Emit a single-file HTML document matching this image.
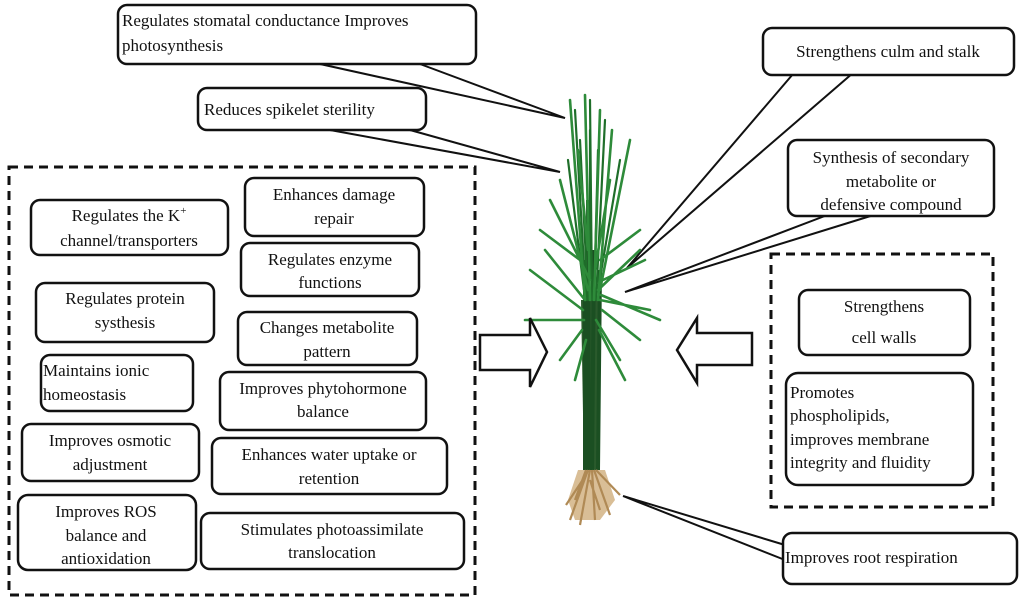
<!DOCTYPE html>
<html><head><meta charset="utf-8"><style>
body{margin:0;background:#fff;}
svg{display:block;}
text{font-family:"Liberation Serif",serif;font-size:17px;fill:#111;}
.b{fill:#fff;stroke:#111;stroke-width:2.5;}
.d{fill:none;stroke:#111;stroke-width:3;stroke-dasharray:9,6;}
.l{stroke:#111;stroke-width:2;fill:none;}
.g{stroke:#2e8b3a;stroke-width:2.6;fill:none;stroke-linecap:round;}
.g3{stroke:#1f6e2a;stroke-width:2.2;fill:none;stroke-linecap:round;}
.g2{stroke:#1b4f22;stroke-width:4;fill:none;}
.r{stroke:#b08a55;stroke-width:2.2;fill:none;}
</style></head><body>
<svg width="1024" height="603" viewBox="0 0 1024 603">
<path class="l" d="M320 64 L565 118 L420 64"/>
<path class="l" d="M330 130 L560 172 L410 130"/>
<path class="l" d="M805 60 L627 268 L868 60"/>
<path class="l" d="M830 214 L625 292 L877 214"/>
<path class="l" d="M623 496 L785 545 M623 496 L785 560"/>
<g>
<path d="M581 300 L600 300 L598 470 L584 470 Z" fill="#2a5a2c"/>
<path class="g2" d="M585 470 L585 260 M592 470 L594 250 M598 470 L600 270 M589 470 L588 200"/>
<path class="g3" d="M586 300 L575 110 M592 300 L590 100 M596 300 L605 120 M588 300 L580 140 M594 300 L598 150 M584 290 L568 160 M598 290 L620 160 M590 280 L590 130"/>
<path class="g" d="M585 300 L570 100 M590 300 L585 95 M594 300 L600 110 M598 300 L612 130 M600 290 L630 140 M588 290 L560 180 M585 300 L545 250 M584 320 L525 320 M590 280 L550 200 M598 290 L640 250 M600 300 L650 310 M602 310 L640 340 M596 320 L620 360 M582 330 L560 360 M586 340 L575 380 M600 260 L640 230 M580 260 L540 230 M595 270 L610 180 M588 250 L578 150 M583 310 L530 270 M601 295 L660 320 M603 280 L645 260 M599 330 L625 380"/>
<path d="M578 470 L605 470 L615 500 L600 520 L575 520 L568 500 Z" fill="#c9a36a" opacity="0.7"/>
<path class="r" d="M588 470 L570 520 M590 470 L580 525 M592 470 L595 520 M594 470 L610 515 M596 470 L620 495 M586 470 L575 500 M590 480 L600 510 M584 478 L566 505"/>
</g>
<rect class="b" x="118" y="5" width="358" height="59" rx="9"/>
<text x="122" y="26">Regulates stomatal conductance Improves</text>
<text x="122" y="51">photosynthesis</text>
<rect class="b" x="198" y="88" width="228" height="42" rx="9"/>
<text x="204" y="115">Reduces spikelet sterility</text>
<rect class="b" x="763" y="28" width="251" height="47" rx="9"/>
<text x="888" y="57" text-anchor="middle">Strengthens culm and stalk</text>
<rect class="b" x="788" y="140" width="206" height="76" rx="9"/>
<text x="891" y="163" text-anchor="middle">Synthesis of secondary</text>
<text x="891" y="187" text-anchor="middle">metabolite or</text>
<text x="891" y="210" text-anchor="middle">defensive compound</text>
<rect class="d" x="771" y="254" width="222" height="253"/>
<rect class="b" x="799" y="290" width="171" height="65" rx="9"/>
<text x="884" y="312" text-anchor="middle">Strengthens</text>
<text x="884" y="343" text-anchor="middle">cell walls</text>
<rect class="b" x="786" y="373" width="187" height="112" rx="12"/>
<text x="790" y="398">Promotes</text>
<text x="790" y="421">phospholipids,</text>
<text x="790" y="445">improves membrane</text>
<text x="790" y="468">integrity and fluidity</text>
<rect class="b" x="783" y="533" width="234" height="51" rx="9"/>
<text x="785" y="563">Improves root respiration</text>
<path class="b" d="M480 335 L530 335 L530 318 L547 352 L530 387 L530 370 L480 370 Z"/>
<path class="b" d="M752 333 L697 333 L697 318 L677 350 L697 383 L697 365 L752 365 Z"/>
<rect class="d" x="9" y="167" width="466" height="428"/>
<rect class="b" x="31" y="200" width="197" height="55" rx="9"/>
<text x="129" y="221" text-anchor="middle">Regulates the K<tspan font-size="11" dy="-7">+</tspan></text>
<text x="129" y="246" text-anchor="middle">channel/transporters</text>
<rect class="b" x="245" y="178" width="179" height="58" rx="9"/>
<text x="334" y="200" text-anchor="middle">Enhances damage</text>
<text x="334" y="224" text-anchor="middle">repair</text>
<rect class="b" x="241" y="243" width="178" height="53" rx="9"/>
<text x="330" y="265" text-anchor="middle">Regulates enzyme</text>
<text x="330" y="288" text-anchor="middle">functions</text>
<rect class="b" x="36" y="283" width="178" height="59" rx="9"/>
<text x="125" y="304" text-anchor="middle">Regulates protein</text>
<text x="125" y="328" text-anchor="middle">systhesis</text>
<rect class="b" x="238" y="312" width="179" height="53" rx="9"/>
<text x="327" y="333" text-anchor="middle">Changes metabolite</text>
<text x="327" y="357" text-anchor="middle">pattern</text>
<rect class="b" x="41" y="355" width="152" height="56" rx="9"/>
<text x="43" y="376">Maintains ionic</text>
<text x="43" y="400">homeostasis</text>
<rect class="b" x="220" y="372" width="206" height="58" rx="9"/>
<text x="323" y="394" text-anchor="middle">Improves phytohormone</text>
<text x="323" y="417" text-anchor="middle">balance</text>
<rect class="b" x="22" y="424" width="177" height="57" rx="9"/>
<text x="110" y="446" text-anchor="middle">Improves osmotic</text>
<text x="110" y="470" text-anchor="middle">adjustment</text>
<rect class="b" x="212" y="438" width="235" height="56" rx="9"/>
<text x="329" y="460" text-anchor="middle">Enhances water uptake or</text>
<text x="329" y="484" text-anchor="middle">retention</text>
<rect class="b" x="18" y="495" width="178" height="75" rx="10"/>
<text x="106" y="517" text-anchor="middle">Improves ROS</text>
<text x="106" y="541" text-anchor="middle">balance and</text>
<text x="106" y="564" text-anchor="middle">antioxidation</text>
<rect class="b" x="201" y="513" width="263" height="56" rx="9"/>
<text x="332" y="535" text-anchor="middle">Stimulates photoassimilate</text>
<text x="332" y="558" text-anchor="middle">translocation</text>
</svg>
</body></html>
